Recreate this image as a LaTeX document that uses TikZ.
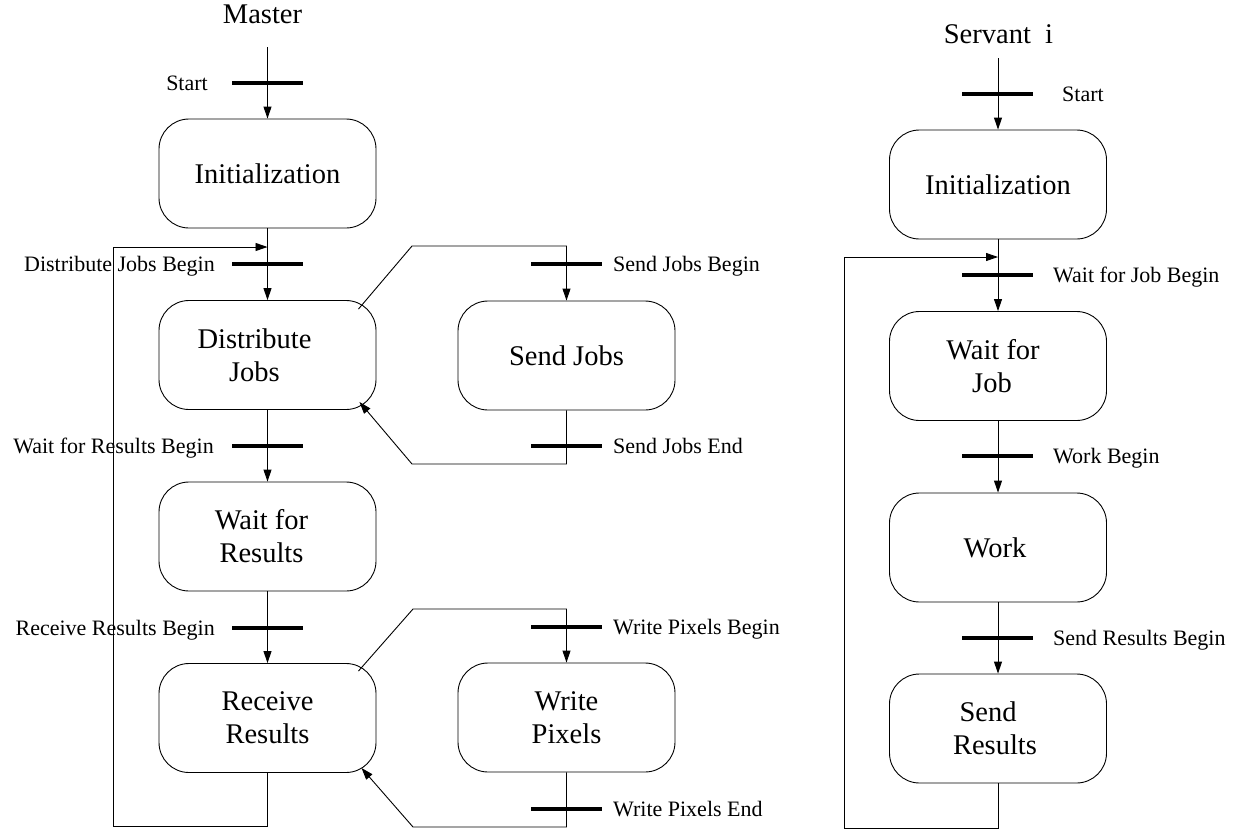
\documentclass[tikz,border=0pt]{standalone}
\usepackage{fontspec}
\setmainfont{Liberation Serif}
\usetikzlibrary{arrows.meta,calc}
\begin{document}
\begin{tikzpicture}[x=1pt,y=-1pt,
  state/.style={draw, line width=0.9pt, rounded corners=30pt,
    minimum width=217pt, minimum height=109pt, inner sep=0pt,
    align=center, font=\fontsize{28.5}{33}\selectfont},
  syncbar/.style={fill=black, minimum width=71pt, minimum height=4.5pt,
    inner sep=0pt, outer sep=0pt},
  lbl/.style={font=\fontsize{22}{26}\selectfont, inner sep=0pt},
  heading/.style={font=\fontsize{28.5}{33}\selectfont, inner sep=0pt},
  flow/.style={line width=0.9pt, -{Triangle[length=12pt,width=8pt]}},
  wire/.style={line width=0.9pt}]
\useasboundingbox (0,0) rectangle (1233,830);

% ---------------- Master ----------------
\node[heading, anchor=base] (mtitle) at (262.5,23) {Master};

\node[state] (minit)  at (267.5,173.5) {Initialization};
\node[state] (mdist)  at (267.5,355)   {Distribute\hspace*{26pt}\\Jobs\hspace*{26pt}};
\node[state] (mwait)  at (267.5,536.5) {Wait for\hspace*{12pt}\\Results\hspace*{12pt}};
\node[state] (mrecv)  at (267.5,718)   {Receive\\Results};
\node[state] (msend)  at (566.5,355.5) {Send Jobs};
\node[state] (mwrite) at (566.5,717.5) {Write\\Pixels};

\node[syncbar] (bmstart) at (267.5,83)  {};
\node[syncbar] (bmdist)  at (267.5,264) {};
\node[syncbar] (bmwait)  at (267.5,446) {};
\node[syncbar] (bmrecv)  at (267.5,628) {};
\node[syncbar] (bsjb)    at (566.5,264) {};
\node[syncbar] (bsje)    at (566.5,446) {};
\node[syncbar] (bwpb)    at (566.5,627) {};
\node[syncbar] (bwpe)    at (566.5,809) {};

\node[lbl, anchor=base east] (lmstart) at (208,90)  {Start};
\node[lbl, anchor=base east] (lmdist)  at (215,271) {Distribute Jobs Begin};
\node[lbl, anchor=base east] (lmwait)  at (214,453) {Wait for Results Begin};
\node[lbl, anchor=base east] (lmrecv)  at (215,635) {Receive Results Begin};
\node[lbl, anchor=base west] (lsjb)    at (613,271) {Send Jobs Begin};
\node[lbl, anchor=base west] (lsje)    at (613,453) {Send Jobs End};
\node[lbl, anchor=base west] (lwpb)    at (613,634) {Write Pixels Begin};
\node[lbl, anchor=base west] (lwpe)    at (613,816) {Write Pixels End};

\coordinate (mentry) at (267.5,47);
\coordinate (mjoin)  at (267.5,247);
\coordinate (mloopa) at (113,826);
\coordinate (mloopb) at (113,247);

\draw[flow] (mentry) -- (minit.north);
\draw[flow] (minit.south) -- (mdist.north);
\draw[flow] (mdist.south) -- (mwait.north);
\draw[flow] (mwait.south) -- (mrecv.north);
\draw[flow] (mrecv.south) |- (mloopa) -- (mloopb) -- (mjoin);

% send jobs branch
\coordinate (sjup)  at (412,246);
\coordinate (sjlow) at (412,464);
\draw[flow] ($(mdist.north east)+(-18,9)$) -- (sjup) -| (msend.north);
\draw[flow] (msend.south) |- (sjlow) -- ($(mdist.south east)+(-17,-8)$);

% write pixels branch
\coordinate (wpup)  at (413,609);
\coordinate (wplow) at (413,827);
\draw[flow] ($(mrecv.north east)+(-18,8)$) -- (wpup) -| (mwrite.north);
\draw[flow] (mwrite.south) |- (wplow) -- ($(mrecv.south east)+(-15,-5)$);

% ---------------- Servant ----------------
\node[heading, anchor=base] (stitle) at (998.5,43) {Servant\ \ i};

\node[state] (sinit) at (998,184.5) {Initialization};
\node[state] (swait) at (998,366)   {Wait for\hspace*{10pt}\\Job\hspace*{12pt}};
\node[state] (swork) at (998,547.5) {Work\hspace*{6pt}};
\node[state] (ssend) at (998,728.5) {Send\hspace*{20pt}\\Results\hspace*{6pt}};

\node[syncbar] (bsstart) at (997.5,94)  {};
\node[syncbar] (bswait)  at (997.5,275) {};
\node[syncbar] (bswork)  at (997.5,456) {};
\node[syncbar] (bssend)  at (997.5,638) {};

\node[lbl, anchor=base west] (lsstart) at (1062,101) {Start};
\node[lbl, anchor=base west] (lswait)  at (1053,282) {Wait for Job Begin};
\node[lbl, anchor=base west] (lswork)  at (1053,463) {Work Begin};
\node[lbl, anchor=base west] (lssend)  at (1053,645) {Send Results Begin};

\coordinate (sentry) at (998,58);
\coordinate (sjoin)  at (998,257);
\coordinate (sloopa) at (844,828);
\coordinate (sloopb) at (844,257);

\draw[flow] (sentry) -- (sinit.north);
\draw[flow] (sinit.south) -- (swait.north);
\draw[flow] (swait.south) -- (swork.north);
\draw[flow] (swork.south) -- (ssend.north);
\draw[flow] (ssend.south) |- (sloopa) -- (sloopb) -- (sjoin);
\end{tikzpicture}
\end{document}
